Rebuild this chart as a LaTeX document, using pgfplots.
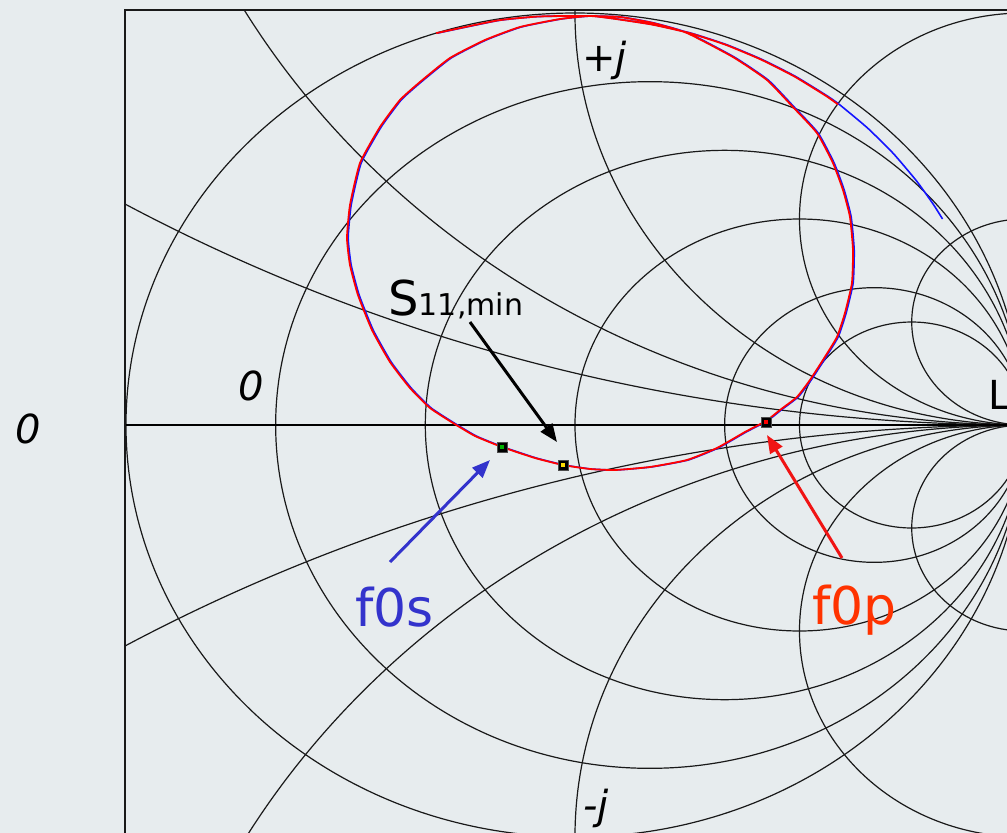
\documentclass[border=0pt]{standalone}
\usepackage{pgfplots}
\pgfplotsset{compat=1.18}
\usepackage{fontspec}
\setmainfont{DejaVu Sans}
\usetikzlibrary{arrows.meta}
\definecolor{bgc}{RGB}{231,236,238}
\definecolor{tblue}{RGB}{20,20,255}
\definecolor{tred}{RGB}{255,0,0}
\definecolor{lblue}{RGB}{51,51,204}
\definecolor{lred}{RGB}{255,51,0}
\definecolor{ared}{RGB}{240,20,20}
\tikzset{sg/.style={black!90, line width=0.6pt}}
\begin{document}
\begin{tikzpicture}
\fill[bgc] (0,0) rectangle (503.5pt,-416.5pt);
\begin{axis}[
  at={(62.5pt,-5pt)}, anchor=north west,
  scale only axis, width=445pt, height=417.5pt,
  xmin=-1.0022, xmax=0.9800, ymin=-1.0194, ymax=1.0073,
  axis line style={draw=none}, ticks=none,
]
% constant resistance circles
\draw[sg] (axis cs:0,0) circle [radius=1];
\draw[sg] (axis cs:0.16667,0) circle [radius=0.83333];
\draw[sg] (axis cs:0.33333,0) circle [radius=0.66667];
\draw[sg] (axis cs:0.5,0) circle [radius=0.5];
\draw[sg] (axis cs:0.66667,0) circle [radius=0.33333];
\draw[sg] (axis cs:0.75,0) circle [radius=0.25];
% constant reactance circles
\draw[sg] (axis cs:1,4) circle [radius=4];
\draw[sg] (axis cs:1,-4) circle [radius=4];
\draw[sg] (axis cs:1,2) circle [radius=2];
\draw[sg] (axis cs:1,-2) circle [radius=2];
\draw[sg] (axis cs:1,1) circle [radius=1];
\draw[sg] (axis cs:1,-1) circle [radius=1];
\draw[sg] (axis cs:1,0.5) circle [radius=0.5];
\draw[sg] (axis cs:1,-0.5) circle [radius=0.5];
\draw[sg] (axis cs:1,0.25) circle [radius=0.25];
\draw[sg] (axis cs:1,-0.25) circle [radius=0.25];
\draw[black, line width=1.2pt] (axis cs:-1.0022,0) -- (axis cs:0.98,0);

% S11 traces
\addplot[tblue, line width=0.8pt, xshift=0.6pt, smooth, tension=0.3] coordinates {
(-0.3090,0.9511) (-0.1731,0.9818) (-0.0867,0.9912) (-0.0173,0.9928)
(0.0334,0.9927) (0.1002,0.9903) (0.1737,0.9757) (0.2494,0.9515) (0.3519,0.8932)
(0.4276,0.8374) (0.4855,0.7718) (0.5390,0.7087) (0.5746,0.6359) (0.5969,0.5704)
(0.6125,0.5049) (0.6192,0.4248) (0.6169,0.3447) (0.6013,0.2718) (0.5835,0.2136)
(0.5523,0.1578) (0.5234,0.1092) (0.4944,0.0680) (0.4566,0.0364) (0.4254,0.0097)
(0.3786,-0.0170) (0.3163,-0.0558) (0.2494,-0.0850) (0.1670,-0.1019) (0.0891,-0.1092)
(0.0334,-0.1068) (-0.0267,-0.0971) (-0.0891,-0.0801) (-0.1626,-0.0534) (-0.2227,-0.0267)
(-0.2717,0.0049) (-0.3229,0.0413) (-0.3675,0.0898) (-0.4120,0.1529) (-0.4521,0.2306)
(-0.4833,0.3155) (-0.5011,0.3883) (-0.5078,0.4539) (-0.5011,0.5340) (-0.4788,0.6359)
(-0.4343,0.7233) (-0.3898,0.7888) (-0.3452,0.8325) (-0.2784,0.8908) (-0.2004,0.9345)
(-0.1225,0.9660) (-0.0334,0.9854) (0.0334,0.9927)
(0.0863,0.9862) (0.1714,0.9720) (0.2549,0.9514) (0.3359,0.9228) (0.4137,0.8873)
(0.4885,0.8461) (0.5592,0.7987) (0.5862,0.7779) (0.6490,0.7208) (0.7065,0.6588)
(0.7581,0.5923) (0.7950,0.5363) (0.8160,0.5000)
};
\addplot[tred, line width=0.9pt, smooth, tension=0.3] coordinates {
(-0.3090,0.9511) (-0.1731,0.9818) (-0.0867,0.9912) (-0.0173,0.9928)
(0.0334,0.9927) (0.1002,0.9903) (0.1737,0.9757) (0.2494,0.9515) (0.3519,0.8932)
(0.4276,0.8374) (0.4855,0.7718) (0.5390,0.7087) (0.5746,0.6359) (0.5969,0.5704)
(0.6125,0.5049) (0.6192,0.4248) (0.6169,0.3447) (0.6013,0.2718) (0.5835,0.2136)
(0.5523,0.1578) (0.5234,0.1092) (0.4944,0.0680) (0.4566,0.0364) (0.4254,0.0097)
(0.3786,-0.0170) (0.3163,-0.0558) (0.2494,-0.0850) (0.1670,-0.1019) (0.0891,-0.1092)
(0.0334,-0.1068) (-0.0267,-0.0971) (-0.0891,-0.0801) (-0.1626,-0.0534) (-0.2227,-0.0267)
(-0.2717,0.0049) (-0.3229,0.0413) (-0.3675,0.0898) (-0.4120,0.1529) (-0.4521,0.2306)
(-0.4833,0.3155) (-0.5011,0.3883) (-0.5078,0.4539) (-0.5011,0.5340) (-0.4788,0.6359)
(-0.4343,0.7233) (-0.3898,0.7888) (-0.3452,0.8325) (-0.2784,0.8908) (-0.2004,0.9345)
(-0.1225,0.9660) (-0.0334,0.9854) (0.0334,0.9927)
(0.0863,0.9862) (0.1714,0.9720) (0.2549,0.9514) (0.3359,0.9228) (0.4137,0.8873)
(0.4885,0.8461) (0.5592,0.7987) (0.5862,0.7779)
};
% markers
\addplot[only marks, mark=square*, mark size=2.5pt, mark options={fill=black, draw=black!70}] coordinates {
(-0.1626,-0.0534) (-0.0267,-0.0971) (0.4254,0.0073)};
\addplot[only marks, mark=square*, mark size=0.6pt, green!70!black] coordinates {(-0.1626,-0.0534)};
\addplot[only marks, mark=square*, mark size=0.6pt, yellow!80!orange] coordinates {(-0.0267,-0.0971)};
\addplot[only marks, mark=square*, mark size=0.6pt, red] coordinates {(0.4254,0.0073)};

% arrows
\draw[black, line width=1.5pt, -{Triangle[length=9pt,width=7pt]}] (axis cs:-0.2339,0.25) -- (axis cs:-0.0401,-0.0413);
\draw[lblue, line width=1.5pt, -{Triangle[length=9pt,width=7pt]}] (axis cs:-0.412,-0.3325) -- (axis cs:-0.1893,-0.085);
\draw[ared, line width=1.5pt, -{Triangle[length=9pt,width=7pt]}] (axis cs:0.5947,-0.3228) -- (axis cs:0.4276,-0.0243);

% labels
\node[anchor=base west, inner sep=0pt] at (axis cs:0.0156,0.8568) {\fontsize{20}{24}\selectfont\itshape +j};
\node[anchor=base west, inner sep=0pt] at (axis cs:0.0178,-0.9587) {\fontsize{20}{24}\selectfont\itshape -j};
\node[anchor=base west, inner sep=0pt] at (axis cs:-0.7506,0.0583) {\fontsize{20}{24}\selectfont\itshape 0};
\node[anchor=base west, inner sep=0pt] at (axis cs:-0.4165,0.2670) {\fontsize{24}{28}\selectfont S\fontsize{15}{18}\selectfont 11,min};
\node[anchor=base west, inner sep=0pt, text=lblue] at (axis cs:-0.49,-0.4879) {\fontsize{26}{30}\selectfont f0s};
\node[anchor=base west, inner sep=0pt, text=lred] at (axis cs:0.5278,-0.483) {\fontsize{26}{30}\selectfont f0p};
\end{axis}
% frame
\draw[black!90, line width=1.3pt] (62.5pt,-416.5pt) -- (62.5pt,-5pt) -- (503.5pt,-5pt);
\node[anchor=base west, inner sep=0pt] at (7.5pt,-222pt) {\fontsize{20}{24}\selectfont\itshape 0};
\node[anchor=base west, inner sep=0pt] at (494pt,-205pt) {\fontsize{20}{24}\selectfont L};
\pgfresetboundingbox
\useasboundingbox (0,0) rectangle (503.5pt,-416.5pt);
\end{tikzpicture}
\end{document}
